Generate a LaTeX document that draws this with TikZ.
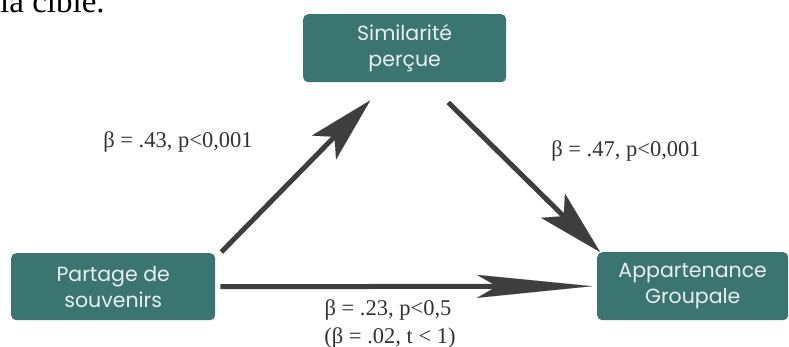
\documentclass[tikz,border=0pt]{standalone}
\usepackage{fontspec}
\setmainfont{Liberation Serif}
\newfontfamily\boxfont{Poppins}
\usetikzlibrary{arrows.meta}
\definecolor{boxteal}{HTML}{3A7571}
\definecolor{boxtext}{HTML}{E8EFEE}
\definecolor{arrowgray}{HTML}{3E3E3E}
\definecolor{labelgray}{HTML}{333333}
\begin{document}
\begin{tikzpicture}[x=1pt,y=-1pt,
  box/.style={fill=boxteal, rounded corners=5pt, text=boxtext,
    font=\boxfont\fontsize{20.5}{26}\selectfont, align=center, inner sep=0pt, anchor=north west},
  lbl/.style={font=\fontsize{22.5}{25}\selectfont, text=labelgray, anchor=base, inner sep=0pt},
  conn/.style={draw=arrowgray, line width=5pt},
  diaghead/.style={-{Stealth[length=66pt,width=34pt,inset=15pt,line width=0.01pt]}},
  longhead/.style={-{Stealth[length=115pt,width=23pt,inset=20pt,line width=0.01pt]}}]
\useasboundingbox (0,0) rectangle (789,347);
\begin{scope}
  \clip (0,0) rectangle (789,347);
  \node[anchor=base west, inner sep=0pt, font=\fontsize{33}{36}\selectfont, text=black] (cible) at (0,13) {la cible.};
\end{scope}
\node[box, minimum width=203pt, minimum height=68pt] (S) at (303,14) {Similarité\\perçue};
\node[box, minimum width=204pt, minimum height=67pt] (P) at (11,253) {Partage de\\souvenirs};
\node[box, minimum width=191pt, minimum height=68pt] (A) at (597,252) {Appartenance\\Groupale};
\draw[conn, diaghead] ([shift={(6,-1)}]P.north east) -- ([shift={(-34.5,18)}]S.south);
\draw[conn, diaghead] ([shift={(43.5,20)}]S.south) -- ([shift={(3,0)}]A.north west);
\draw[conn, longhead] ([shift={(5,0)}]P.east) -- ([shift={(-5,0)}]A.west);
\node[lbl] (l1) at (178,148) {β = .43, p<0,001};
\node[lbl] (l2) at (626,157) {β = .47, p<0,001};
\node[lbl] (l3) at (388,315) {β = .23, p<0,5};
\node[lbl] (l4) at (390,343) {(β = .02, t < 1)};
\end{tikzpicture}
\end{document}
